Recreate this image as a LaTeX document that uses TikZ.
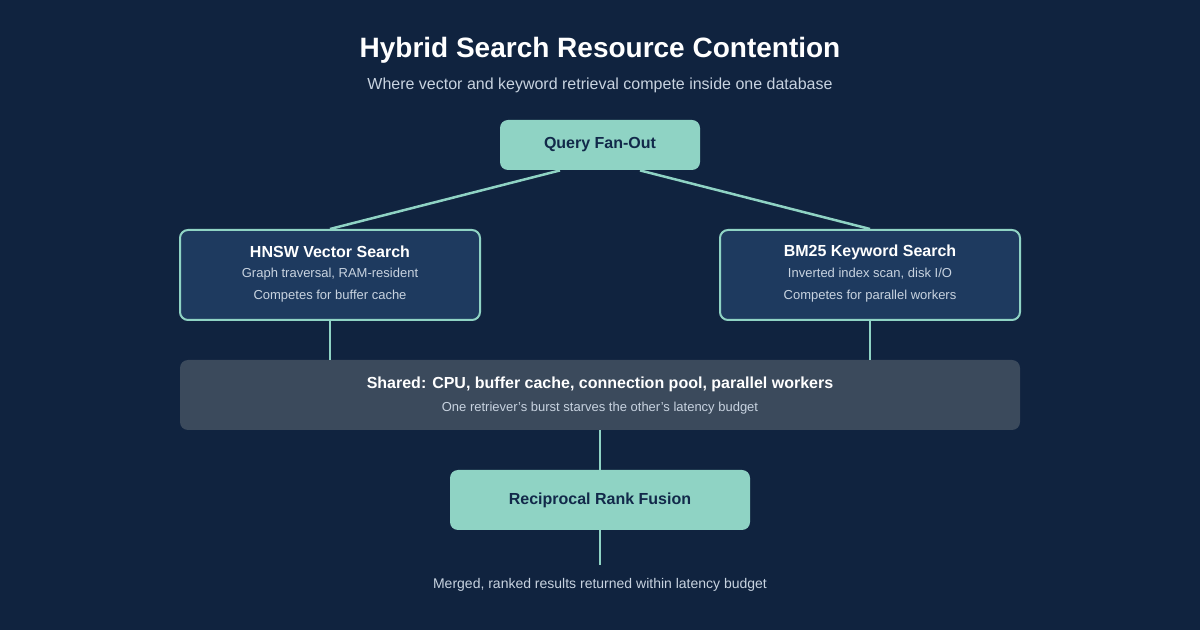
\documentclass[tikz,border=0pt]{standalone}
\usepackage{fontspec}
\setmainfont{Liberation Sans}
\usetikzlibrary{positioning}
\definecolor{bgnavy}{HTML}{10233F}
\definecolor{mint}{HTML}{8FD3C4}
\definecolor{boxblue}{HTML}{1E3A5F}
\definecolor{shared}{HTML}{3B4A5C}
\definecolor{subgrey}{HTML}{C8D3E0}
\definecolor{darktext}{HTML}{12294A}
\tikzset{
    mintbox/.style={fill=mint, rounded corners=4pt, text=darktext, font=\bfseries\fontsize{8}{10}\selectfont},
    searchbox/.style={fill=boxblue, draw=mint, line width=1pt, rounded corners=4pt, minimum width=150pt, minimum height=45pt},
    headtext/.style={text=white, font=\bfseries\fontsize{8}{10}\selectfont},
    smalltext/.style={text=subgrey, font=\fontsize{6.5}{8}\selectfont},
    link/.style={draw=mint, line width=1.25pt},
}
\begin{document}
\begin{tikzpicture}[x=0.5pt,y=-0.5pt]
    \fill[bgnavy] (0,0) rectangle (1200,630);
    \useasboundingbox (0,0) rectangle (1200,630);

    % header
    \node[text=white, font=\bfseries\fontsize{14}{16}\selectfont] (title) at (600,50) {Hybrid Search Resource Contention};
    \node[text=subgrey, font=\fontsize{8}{10}\selectfont] (subtitle) at (600,85) {Where vector and keyword retrieval compete inside one database};

    % fan-out
    \node[mintbox, minimum width=100pt, minimum height=25pt] (query) at (600,145) {Query Fan-Out};

    % retrievers
    \node[searchbox] (hnsw) at (330,275) {};
    \node[headtext] (hnswhead) at (330,252) {HNSW Vector Search};
    \node[smalltext] (hnswa) at (330,274) {Graph traversal, RAM-resident};
    \node[smalltext] (hnswb) at (330,296) {Competes for buffer cache};

    \node[searchbox] (bm) at (870,275) {};
    \node[headtext] (bmhead) at (870,252) {BM25 Keyword Search};
    \node[smalltext] (bma) at (870,274) {Inverted index scan, disk I/O};
    \node[smalltext] (bmb) at (870,296) {Competes for parallel workers};

    % shared resources
    \node[fill=shared, rounded corners=4pt, minimum width=420pt, minimum height=35pt] (pool) at (600,395) {};
    \node[headtext] (poolhead) at (600,384) {Shared: CPU, buffer cache, connection pool, parallel workers};
    \node[smalltext] (poolsub) at (600,408) {One retriever's burst starves the other's latency budget};

    % fusion
    \node[mintbox, minimum width=150pt, minimum height=30pt] (rrf) at (600,500) {Reciprocal Rank Fusion};
    \node[smalltext, font=\fontsize{7}{9}\selectfont] (result) at (600,585) {Merged, ranked results returned within latency budget};
    \coordinate (out) at (600,565);

    \draw[link] ([xshift=-20pt]query.south) -- (hnsw.north);
    \draw[link] ([xshift=20pt]query.south) -- (bm.north);
    \draw[link] (hnsw.south) -- (hnsw.south |- pool.north);
    \draw[link] (bm.south) -- (bm.south |- pool.north);
    \draw[link] (pool.south) -- (rrf.north);
    \draw[link] (rrf.south) -- (out);
\end{tikzpicture}
\end{document}
